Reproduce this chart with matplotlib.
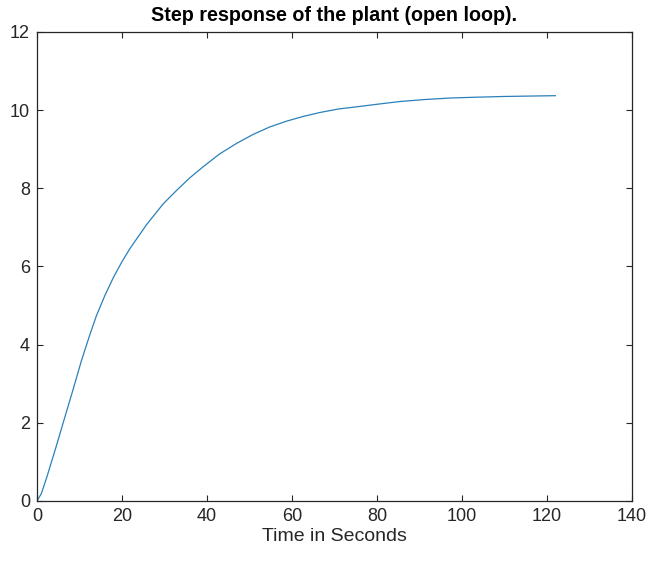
import matplotlib
matplotlib.use("Agg")
import matplotlib.pyplot as plt

# values
t = [0, 1.0, 2.3, 4.6, 6.2, 8.5, 10.5, 12.5, 14.0, 16.0, 18.0, 20.0, 21.9,
     25.8, 29.7, 32.9, 36.0, 39.1, 43.0, 47.0, 50.9, 54.8, 58.8, 62.7, 66.6,
     71.0, 76.0, 80.0, 85.4, 91.0, 97.2, 103.0, 110.0, 116.0, 122.0]
y = [0, 0.18, 0.6, 1.42, 2.01, 2.85, 3.6, 4.27, 4.74, 5.26, 5.72, 6.12, 6.46,
     7.07, 7.6, 7.95, 8.27, 8.55, 8.88, 9.15, 9.38, 9.57, 9.72, 9.84, 9.94,
     10.03, 10.095, 10.15, 10.22, 10.27, 10.31, 10.33, 10.35, 10.36, 10.37]

x_ticks = [0, 20, 40, 60, 80, 100, 120, 140]
y_ticks = [0, 2, 4, 6, 8, 10, 12]

plt.rcParams['font.family'] = ['Liberation Sans', 'DejaVu Sans']

fig = plt.figure(figsize=(6.48, 5.61), dpi=100)
ax = fig.add_axes([0.057, 0.107, 0.918, 0.836])

ax.plot(t, y, color='#2a80ba', linewidth=0.9)

ax.set_xlim(0, 140)
ax.set_ylim(0, 12)
ax.set_xticks(x_ticks)
ax.set_yticks(y_ticks)
ax.tick_params(direction='in', length=4, labelsize=13, colors='#262626',
               top=True, right=True, pad=5)
for s in ax.spines.values():
    s.set_color('#262626')
    s.set_linewidth(0.9)

ax.set_xlabel('Time in Seconds', fontsize=14, color='#262626', labelpad=2)
ax.set_title('Step response of the plant (open loop).', fontsize=14.2,
             fontweight='bold', pad=8)

fig.savefig('out.png', dpi=100)
